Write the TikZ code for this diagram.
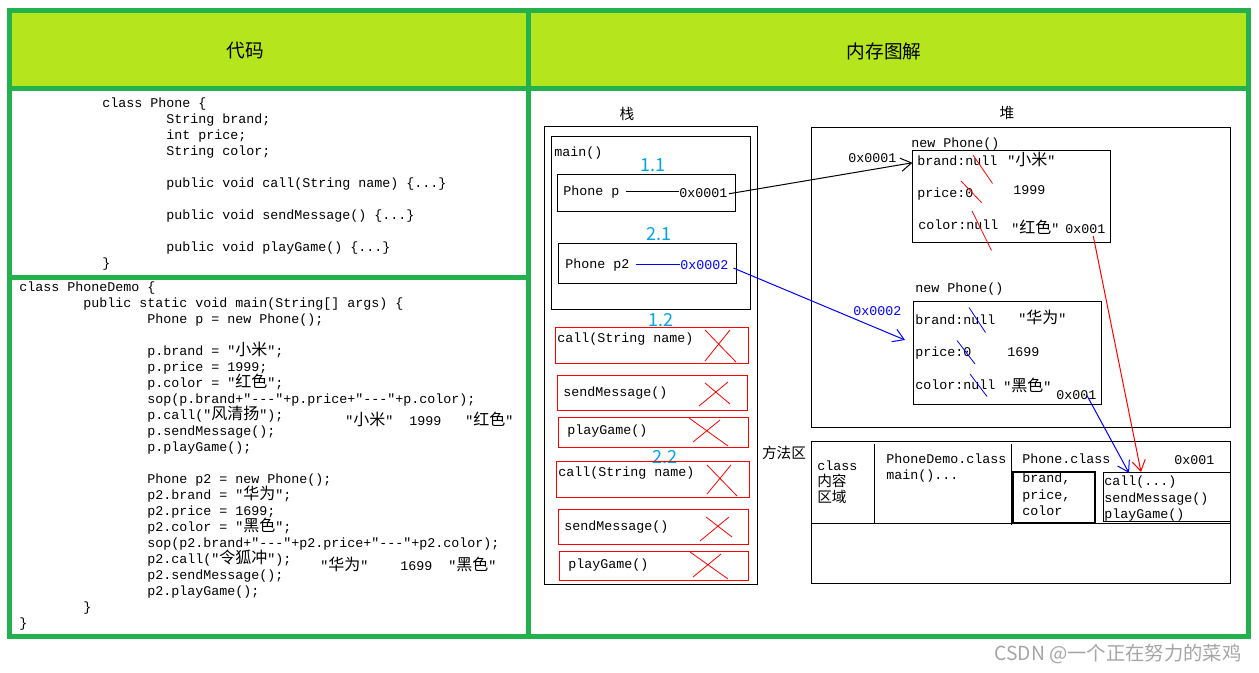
\documentclass[tikz,border=0pt]{standalone}
\usepackage{fontspec}
\setmonofont{Liberation Mono}
\newfontfamily\cjk{Noto Sans CJK SC}
\newfontfamily\cjkc{Noto Sans CJK SC}[Scale=1.2]
\newcommand{\zh}[1]{{\cjkc #1}}
\newcommand{\ind}{\hspace*{48pt}}
\lineskiplimit=-20pt
\usetikzlibrary{positioning,arrows.meta}

\definecolor{framegreen}{RGB}{34,177,76}
\definecolor{headlime}{RGB}{181,230,29}
\definecolor{stepblue}{RGB}{0,162,232}
\definecolor{markgray}{RGB}{165,165,165}

\tikzset{
  codeblock/.style={anchor=north west, align=left, inner sep=0pt,
    font=\ttfamily\fontsize{10}{12}\selectfont},
  txt/.style={anchor=west, inner sep=0pt, text height=7.5pt, text depth=2pt,
    font=\ttfamily\fontsize{10}{12}\selectfont},
  cjktxt/.style={inner sep=0pt, font=\cjk\fontsize{11}{12}\selectfont},
  headtxt/.style={inner sep=0pt, font=\cjk\fontsize{14}{16}\selectfont},
  steplbl/.style={inner sep=0pt, text=stepblue, font=\cjk\fontsize{13.5}{14}\selectfont},
  greenframe/.style={draw=framegreen, line width=3.75pt},
  hair/.style={line width=0.75pt},
  redbox/.style={draw=red, line width=0.75pt},
  xmark/.style={red, line width=0.6pt},
  strike/.style={line width=0.6pt},
  pointer/.style={-{Straight Barb[length=8pt,width=10pt]}, line width=0.75pt},
}

\begin{document}
\begin{tikzpicture}[x=0.75pt, y=-0.75pt]
	\useasboundingbox (0,0) rectangle (1259,673);

	% header band and green frame
	\fill[headlime] (9.5,10.5) rectangle (1248.5,88.5);
	\draw[greenframe] (9.5,10.5) rectangle (1248.5,636);
	\draw[greenframe] (9.5,88.5) -- (1248.5,88.5);
	\draw[greenframe] (528.5,10.5) -- (528.5,636);
	\draw[greenframe] (9.5,277.5) -- (528.5,277.5);
	\node[headtxt] (hcode) at (245,51) {代码};
	\node[headtxt] (hmem) at (884,51) {内存图解};

	% class Phone
	\node[codeblock] (phonecls) at (102,97.5) {class Phone \{\\
		\ind String brand;\\
		\ind int price;\\
		\ind String color;\\
		\mbox{}\\
		\ind public void call(String name) \{...\}\\
		\mbox{}\\
		\ind public void sendMessage() \{...\}\\
		\mbox{}\\
		\ind public void playGame() \{...\}\\
		\}};

	% class PhoneDemo
	\node[codeblock] (democls) at (19,282) {class PhoneDemo \{\\
		\ind public static void main(String[] args) \{\\
		\ind\ind Phone p = new Phone();\\
		\mbox{}\\
		\ind\ind p.brand = "\zh{小米}";\\
		\ind\ind p.price = 1999;\\
		\ind\ind p.color = "\zh{红色}";\\
		\ind\ind sop(p.brand+"---"+p.price+"---"+p.color);\\
		\ind\ind p.call("\zh{风清扬}");\\
		\ind\ind p.sendMessage();\\
		\ind\ind p.playGame();\\
		\mbox{}\\
		\ind\ind Phone p2 = new Phone();\\
		\ind\ind p2.brand = "\zh{华为}";\\
		\ind\ind p2.price = 1699;\\
		\ind\ind p2.color = "\zh{黑色}";\\
		\ind\ind sop(p2.brand+"---"+p2.price+"---"+p2.color);\\
		\ind\ind p2.call("\zh{令狐冲}");\\
		\ind\ind p2.sendMessage();\\
		\ind\ind p2.playGame();\\
		\ind \}\\
		\}};
	\node[txt] (out1) at (345,422) {"\zh{小米}"~~1999~~~"\zh{红色}"};
	\node[txt] (out2) at (320,567) {"\zh{华为}"~~~~1699~~"\zh{黑色}"};

	% stack
	\node[cjktxt] (stacklbl) at (627,114) {栈};
	\draw[hair] (544,127) rectangle (757.5,584);
	\draw[hair] (551,136.5) rectangle (750.5,310);
	\node[txt] (mainlbl) at (554,152.5) {main()};
	\node[steplbl] (s11) at (653,165) {1.1};
	\draw[hair] (557,174.5) rectangle (735.5,212);
	\node[txt] (pvar) at (563,192) {Phone p};
	\node[txt] (paddr) at (679,194) {0x0001};
	\draw[hair, shorten <=4.5pt] (pvar.east) -- (pvar.east -| paddr.west);
	\node[steplbl] (s21) at (659,234) {2.1};
	\draw[hair] (558,243.5) rectangle (736,283.5);
	\node[txt] (pvar2) at (565,265) {Phone p2};
	\node[txt, text=blue] (paddr2) at (680,266) {0x0002};
	\draw[hair, blue, shorten <=4.5pt] (pvar2.east) -- (pvar2.east -| paddr2.west);

	% methods pushed on the stack
	\node[steplbl] (s12) at (661,320) {1.2};
	\draw[redbox] (555.5,327.5) rectangle (748.5,363.5);
	\node[txt] (call1) at (557,339) {call(String name)};
	\draw[xmark] (705,330) -- (736,362) (705,361) -- (730,330);
	\draw[redbox] (557.5,375.5) rectangle (747.5,410.5);
	\node[txt] (send1) at (563,393) {sendMessage()};
	\draw[xmark] (699,406) -- (728,382) (705,383) -- (730,404);
	\draw[redbox] (558.5,417.5) rectangle (748,447.5);
	\node[txt] (play1) at (567,431) {playGame()};
	\draw[xmark] (689,418) -- (728,446) (693,442) -- (720,420);
	\node[steplbl] (s22) at (664.5,457.5) {2.2};
	\draw[redbox] (556.5,461.5) rectangle (749.5,497.5);
	\node[txt] (call2) at (558,473) {call(String name)};
	\draw[xmark] (707,465) -- (737,496) (707,494) -- (731,465);
	\draw[redbox] (558.5,509.5) rectangle (748,544.5);
	\node[txt] (send2) at (564,527) {sendMessage()};
	\draw[xmark] (706,517) -- (732,537) (700,541) -- (729,517);
	\draw[redbox] (559.5,551.5) rectangle (748,580.5);
	\node[txt] (play2) at (568,565) {playGame()};
	\draw[xmark] (690,552) -- (728,579) (693,577) -- (721,554);

	% heap
	\node[cjktxt] (heaplbl) at (1007,113) {堆};
	\draw[hair] (811.5,127.5) rectangle (1230,427);
	% first phone
	\node[txt] (new1) at (911,143.5) {new Phone()};
	\draw[hair] (912.5,151) rectangle (1110.5,242.5);
	\node[txt] (addr1) at (848,159) {0x0001};
	\node[txt] (brand1) at (917,162) {brand:null};
	\node[txt] (bval1) at (1007,162) {"\zh{小米}"};
	\node[txt] (price1) at (917,193.5) {price:0};
	\node[txt] (prc1) at (1013,190.5) {1999};
	\node[txt] (color1) at (918,226) {color:null};
	\node[txt] (cval1) at (1011,230) {"\zh{红色}"};
	\node[txt] (ref1) at (1065,229.5) {0x001};
	\draw[strike, red] (973,155) -- (992.5,183.5);
	\draw[strike, red] (961,181) -- (981.5,202.5);
	\draw[strike, red] (972,211) -- (991.5,250.5);
	% second phone
	\node[txt] (new2) at (915,289) {new Phone()};
	\draw[hair] (913.5,302) rectangle (1101.5,404.5);
	\node[txt, text=blue] (addr2) at (853,312) {0x0002};
	\node[txt] (brand2) at (915,321) {brand:null};
	\node[txt] (bval2) at (1018,320) {"\zh{华为}"};
	\node[txt] (price2) at (915,353) {price:0};
	\node[txt] (prc2) at (1007,352.5) {1699};
	\node[txt] (color2) at (915,386) {color:null};
	\node[txt] (cval2) at (1003,388) {"\zh{黑色}"};
	\node[txt] (ref2) at (1056,395.5) {0x001};
	\draw[strike, blue] (969,307.5) -- (985.5,332.5);
	\draw[strike, blue] (957,340.5) -- (975,364);
	\draw[strike, blue] (970,374) -- (987,396.5);
	\coordinate (obj2in) at (905,340);

	% method area
	\node[cjktxt] (methlbl) at (784,452.5) {方法区};
	\draw[hair] (811.5,441) rectangle (1230,583.5);
	\draw[hair] (811.5,523.5) -- (1230,523.5);
	\draw[hair] (874.5,444) -- (874.5,523.5);
	\draw[hair] (1011.5,444) -- (1011.5,525);
	\node[txt] (clsword) at (817,466.5) {class};
	\node[cjktxt, anchor=west] (clsnote1) at (817,480.5) {内容};
	\node[cjktxt, anchor=west] (clsnote2) at (817,496.5) {区域};
	\node[txt] (democlass) at (886,459.5) {PhoneDemo.class};
	\node[txt] (mainmeth) at (886,476) {main()...};
	\node[txt] (phoneclass) at (1022,459.5) {Phone.class};
	\node[txt] (clsaddr) at (1174,461) {0x001};
	\draw[line width=1.5pt] (1012.5,472) rectangle (1094.5,522.5);
	\node[txt] (fld1) at (1022,479) {brand,};
	\node[txt] (fld2) at (1022,496) {price,};
	\node[txt] (fld3) at (1022,512) {color};
	\draw[hair] (1103.5,472) rectangle (1230,521);
	\node[txt] (m1) at (1104,481.5) {call(...)};
	\node[txt] (m2) at (1104,499) {sendMessage()};
	\node[txt] (m3) at (1104,515) {playGame()};
	\coordinate (callblue) at (1129,473);
	\coordinate (callred) at (1141,472);

	% references
	\draw[pointer, shorten <=1pt, shorten >=3.5pt] (paddr.east) -- (brand1.west);
	\draw[pointer, blue, shorten <=4pt] (paddr2.east) -- (obj2in);
	\draw[pointer, red] ([xshift=6pt]ref1.south) -- (callred);
	\draw[pointer, blue] ([xshift=8pt]ref2.center) -- (callblue);

	% watermark
	\node[inner sep=0pt, text=markgray, font=\cjk\fontsize{14.5}{16}\selectfont] (mark) at (1118,654) {CSDN @一个正在努力的菜鸡};

\end{tikzpicture}
\end{document}
